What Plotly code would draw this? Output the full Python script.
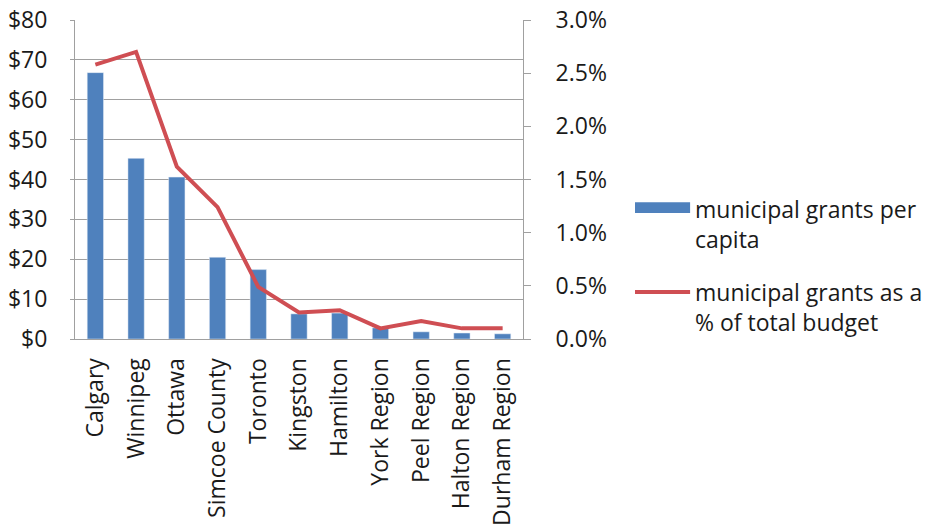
import plotly.graph_objects as go

# Municipal grants by municipality
municipalities = ["Calgary", "Winnipeg", "Ottawa", "Simcoe County", "Toronto",
                  "Kingston", "Hamilton", "York Region", "Peel Region",
                  "Halton Region", "Durham Region"]
grants_per_capita = [66.8, 45.3, 40.6, 20.5, 17.4, 6.3, 6.5, 2.8, 1.8, 1.5, 1.3]
grants_pct_budget = [2.58, 2.70, 1.62, 1.24, 0.49, 0.25, 0.27, 0.10, 0.17, 0.10, 0.10]

left_ticks = [0, 10, 20, 30, 40, 50, 60, 70, 80]
left_labels = ["$" + str(v) for v in left_ticks]
right_ticks = [0, 0.5, 1.0, 1.5, 2.0, 2.5, 3.0]
right_labels = [f"{v:.1f}%" for v in right_ticks]

bar_name = "municipal grants per<br>capita"
line_name = "municipal grants as a<br>% of total budget"

BLUE = "#4F81BD"
RED = "#CF4E53"
GRID = "#A0A0A0"
TEXT = "#1A1A1A"
FONT = "Open Sans"
SIZE = 23

fig = go.Figure()
fig.add_trace(go.Bar(x=municipalities, y=grants_per_capita, marker_color=BLUE,
                     width=0.4, name=bar_name, showlegend=False))
fig.add_trace(go.Scatter(x=municipalities, y=grants_pct_budget, yaxis="y2",
                         mode="lines", line=dict(color=RED, width=4),
                         name=line_name, showlegend=False))

fig.update_layout(
    width=932, height=527,
    margin=dict(l=75, r=409, t=20, b=188, autoexpand=False),
    paper_bgcolor="white", plot_bgcolor="white",
    font=dict(family=FONT, size=SIZE, color=TEXT),
    xaxis=dict(tickangle=-90, showline=True, linecolor=GRID, linewidth=1,
               showgrid=False, ticks="", tickfont=dict(size=SIZE),
               ticklabelstandoff=9, range=[-0.5, 10.5], automargin=False),
    yaxis=dict(range=[0, 80], tickvals=left_ticks, ticktext=left_labels,
               showgrid=True, gridcolor=GRID, gridwidth=1,
               showline=True, linecolor=GRID, ticks="outside",
               tickcolor=GRID, ticklen=4, tickfont=dict(size=SIZE),
               ticklabelstandoff=18, zeroline=False, automargin=False),
    yaxis2=dict(range=[0, 3.0], tickvals=right_ticks, ticktext=right_labels,
                overlaying="y", side="right", showgrid=False,
                showline=True, linecolor=GRID, ticks="outside",
                tickcolor=GRID, ticklen=7, tickfont=dict(size=SIZE),
                ticklabelstandoff=20, zeroline=False, automargin=False),
)

# Legend drawn beside the plot area
fig.add_shape(type="rect", xref="paper", yref="paper",
              x0=1.25, x1=1.373, y0=0.395, y1=0.429,
              fillcolor=BLUE, line_width=0)
fig.add_annotation(xref="paper", yref="paper", x=1.379, y=0.465,
                   text=bar_name, showarrow=False, xanchor="left",
                   yanchor="top", align="left",
                   font=dict(size=SIZE, color=TEXT))
fig.add_shape(type="line", xref="paper", yref="paper",
              x0=1.25, x1=1.373, y0=0.147, y1=0.147,
              line=dict(color=RED, width=4))
fig.add_annotation(xref="paper", yref="paper", x=1.379, y=0.203,
                   text=line_name, showarrow=False, xanchor="left",
                   yanchor="top", align="left",
                   font=dict(size=SIZE, color=TEXT))

fig.write_html("out.html")
